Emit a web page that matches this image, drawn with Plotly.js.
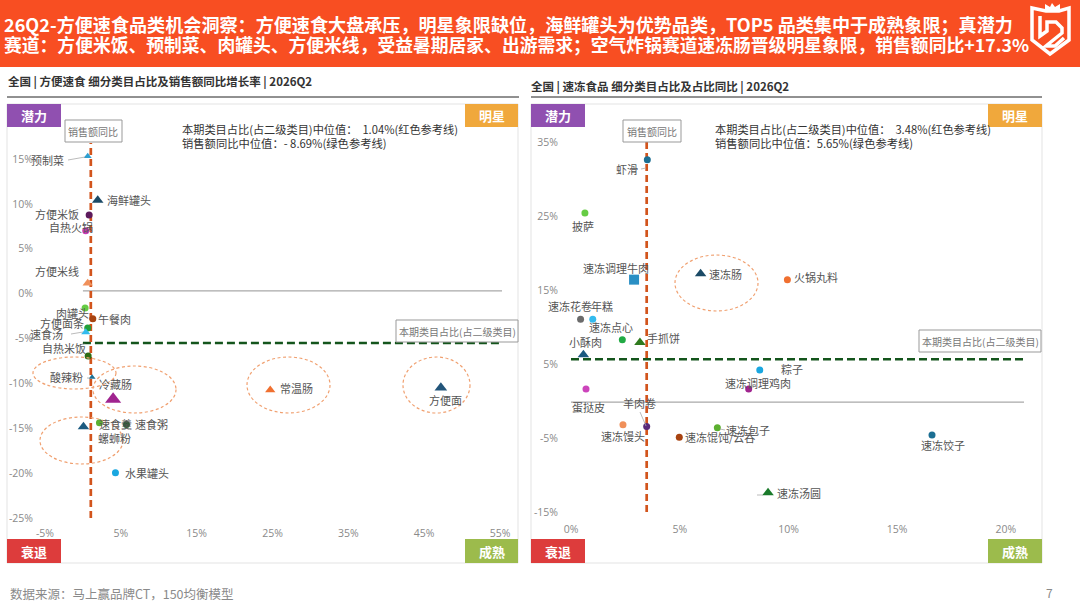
<!DOCTYPE html>
<html><head><meta charset="utf-8">
<script src="https://cdn.plot.ly/plotly-3.0.0.min.js"></script>
<style>html,body{margin:0;padding:0;background:#fff}#c{width:1080px;height:608px}</style>
</head><body><div id="c"></div>
<script>
// ---- left chart data
const leftCats = ['预制菜','海鲜罐头','方便米饭','自热火锅','方便米线','肉罐头','午餐肉','方便面条','速食汤','自热米饭','酸辣粉','冷藏肠','螺蛳粉','速食羹','速食粥','水果罐头','常温肠','方便面'];
const leftShare = [0.63,1.95,0.82,0.37,0.63,0.29,1.3,0.63,0.37,0.69,1.21,3.98,0.07,2.18,5.74,4.29,24.7,47.2];
const leftGrowth = [15.3,10.4,8.77,7.0,1.15,-1.6,-2.8,-3.84,-4.3,-6.96,-9.33,-11.78,-14.83,-14.39,-14.57,-19.96,-10.75,-10.5];
const leftXTicks = [-5,5,15,25,35,45,55];
const leftYTicks = [-25,-20,-15,-10,-5,0,5,10,15];
const leftMedianShare = 1.04;
const leftMedianGrowth = -5.5;
const leftBaseline = 0.3;
// ---- right chart data
const rightCats = ['虾滑','披萨','速冻调理牛肉','速冻肠','火锅丸料','速冻花卷','年糕','速冻点心','小酥肉','手抓饼','粽子','速冻调理鸡肉','蛋挞皮','羊肉卷','速冻馒头','速冻包子','速冻馄饨/云吞','速冻饺子','速冻汤圆'];
const rightShare = [3.51,0.64,2.9,5.96,9.95,0.44,1.0,2.36,0.57,3.17,8.68,8.17,0.69,3.48,2.39,6.73,4.98,16.6,9.06];
const rightGrowth = [32.6,25.4,16.4,17.2,16.4,11.05,11.05,8.27,6.25,7.9,4.2,1.63,1.63,-3.45,-3.2,-3.6,-4.9,-4.6,-12.4];
const rightXTicks = [0,5,10,15,20];
const rightYTicks = [-15,-5,5,15,25,35];
const rightMedianShare = 3.48;
const rightMedianGrowth = 5.65;
const rightBaseline = -0.15;
// ---- styles (separate from values)
const leftSym = ['triangle-up','triangle-up','circle','circle','triangle-up','circle','circle','circle','triangle-up','circle','triangle-up','triangle-up','triangle-up','circle','circle','circle','triangle-up','triangle-up'];
const leftCol = ['#2f9fd0','#1b4a66','#5c1a5c','#c93ab5','#f0905a','#66cc44','#a84310','#21a03a','#33bbee','#2f6b12','#1c6f93','#a0248f','#1b5a80','#5cb030','#1f5c2a','#1aa7e0','#f07030','#22557a'];
const leftSize = [7,10,7,7,9,7,7,7,8,7,6,14,10,7,7,7,9,11];
const leftLab = [[-40,-4],[31,0],[-32,1],[-15,4],[-31,12],[-13,-5],[22,0],[-26,5],[-39,-2],[-24,8],[-26,0],[2,15],[31,-11],[16,-1],[25,0],[32,0],[26,2],[5,-12]];
const rightSym = ['circle','circle','square','triangle-up','circle','circle','circle','circle','triangle-up','triangle-up','circle','circle','circle','circle','circle','circle','circle','circle','triangle-up'];
const rightCol = ['#1c6f93','#66cc44','#2a8fc4','#1b4a66','#f07030','#6b6b6b','#33bbee','#22aa44','#1b5a80','#2f7a1e','#1aa7e0','#a0248f','#cc44bb','#5a2a7a','#f0905a','#5cb030','#a84310','#1c6f93','#1a7a2a'];
const rightSize = [7,7,10,10,7,7,7,7,10,10,7,7,7,7,7,7,7,7,10];
const rightLab = [[-20,-9],[-2,-13],[-18,12],[25,0],[29,3],[-11,13],[9,13],[-11,13],[2,13],[24,5],[32,1],[9,6],[2,-18],[-7,24],[0,-11],[31,-2],[41,0],[11,-10],[31,0]];

const PX = v => v/1080, PY = v => 1 - v/608;
const font = '"Noto Sans CJK SC","Noto Sans",sans-serif';
const box = (x0,y0,x1,y1,extra) => Object.assign({type:'rect',xref:'paper',yref:'paper',x0:PX(x0),x1:PX(x1),y0:PY(y0),y1:PY(y1),line:{width:0}},extra);
const ell = (x0,y0,x1,y1) => ({type:'circle',xref:'paper',yref:'paper',x0:PX(x0),x1:PX(x1),y0:PY(y0),y1:PY(y1),layer:'above',line:{color:'#f0a070',width:1.2,dash:'3px,2.5px'}});
const seg = (x0,y0,x1,y1) => ({type:'line',xref:'paper',yref:'paper',x0:PX(x0),x1:PX(x1),y0:PY(y0),y1:PY(y1),line:{color:'#aaaaaa',width:0.8}});
const note = (x,y,text,size,color,anchor,extra) => Object.assign({xref:'paper',yref:'paper',x:PX(x),y:PY(y),text,showarrow:false,xanchor:anchor||'left',yanchor:'middle',font:{family:font,size,color}},extra||{});
const pct = a => a.map(v => v + '%');

function panel(xa,ya,cats,xs,ys,sym,col,size,medX,medY,xEnd,yMin,yMax,base){
  return [
    {type:'scatter',mode:'lines',xaxis:xa,yaxis:ya,x:[0,xEnd],y:[base,base],line:{color:'#a9a9a9',width:1.3},hoverinfo:'skip'},
    {type:'scatter',mode:'lines',xaxis:xa,yaxis:ya,x:[0,xEnd],y:[medY,medY],line:{color:'#14551c',width:2.4,dash:'8px,4px'},hoverinfo:'skip'},
    {type:'scatter',mode:'lines',xaxis:xa,yaxis:ya,x:[medX,medX],y:[yMin,yMax],line:{color:'#d2541c',width:2.7,dash:'7px,4px'},hoverinfo:'skip'},
    {type:'scatter',mode:'markers',xaxis:xa,yaxis:ya,x:xs,y:ys,text:cats,cliponaxis:false,marker:{symbol:sym,color:col,size:size,opacity:1,line:{width:0}}}
  ];
}
const data = [
  ...panel('x','y',leftCats,leftShare,leftGrowth,leftSym,leftCol,leftSize,leftMedianShare,leftMedianGrowth,55.26,-25,16.78,leftBaseline),
  ...panel('x2','y2',rightCats,rightShare,rightGrowth,rightSym,rightCol,rightSize,rightMedianShare,rightMedianGrowth,20.83,-15,35,rightBaseline)
];
const tickFont = {family:'"Open Sans","Noto Sans",sans-serif',size:10.5,color:'#8a8a8a'};
const axisBase = {showgrid:false,zeroline:false,showline:false,ticks:'',tickmode:'array',tickfont:tickFont,tickangle:0};

const labels = (cats,xs,ys,offs,xa,ya) => cats.map((c,i)=>({xref:xa,yref:ya,x:xs[i],y:ys[i],text:c,showarrow:false,xshift:offs[i][0],yshift:offs[i][1],xanchor:'center',yanchor:'middle',font:{family:font,size:11,color:'#555555'}}));

const quad = (x,y,w,h,col) => [box(x,y,x+w,y+h,{fillcolor:col,layer:'above'})];
const shapes = [
  box(0,0,1080,67,{fillcolor:'#f84e22',layer:'below'}),
  box(7,104,518,563,{line:{color:'#e3e3e3',width:1},layer:'below'}),
  box(531,104,1042,563,{line:{color:'#e3e3e3',width:1},layer:'below'}),
  {type:'line',xref:'paper',yref:'paper',x0:PX(7),x1:PX(519),y0:PY(97),y1:PY(97),line:{color:'#222',width:1}},
  {type:'line',xref:'paper',yref:'paper',x0:PX(531),x1:PX(1042),y0:PY(97),y1:PY(97),line:{color:'#222',width:1}},
  ...quad(7,104,54,23,'#9050b0'),...quad(465,104,53,23,'#f0a83c'),...quad(7,539,54,24,'#dd3c3c'),...quad(465,539,53,24,'#9cbb4c'),
  ...quad(531,104,54,23,'#9050b0'),...quad(988,104,54,23,'#f0a83c'),...quad(531,539,54,24,'#dd3c3c'),...quad(988,539,54,24,'#9cbb4c'),
  box(65,120,122,142,{fillcolor:'#fff',line:{color:'#999',width:1},layer:'above'}),
  box(623,120,681,142,{fillcolor:'#fff',line:{color:'#999',width:1},layer:'above'}),
  box(396,320,518,342,{fillcolor:'#fff',line:{color:'#999',width:1},layer:'above'}),
  box(919,330,1041,352,{fillcolor:'#fff',line:{color:'#999',width:1},layer:'above'}),
  ell(33,357,116,389),ell(93,366,176,413),ell(40,417,123,464),ell(247,357,330,413),ell(403,357,470,413),ell(675,255,758,311),
  seg(68,160,85,157),seg(71,334,83,332),seg(87,378,90,378),seg(641,169,646,168),seg(640,412,646,426),seg(720,429,725,430),seg(757,495,763,495),
  // logo
  {type:'path',xref:'paper',yref:'paper',layer:'above',line:{color:'#fff',width:3.5},fillcolor:'rgba(0,0,0,0)',
   path:'M '+[[1032,8],[1046,11],[1059,11],[1069,8],[1069,40],[1050,54],[1032,40]].map(p=>PX(p[0])+','+PY(p[1])).join(' L ')+' Z'},
  {type:'path',xref:'paper',yref:'paper',layer:'above',line:{color:'#fff',width:0},fillcolor:'#fff',
   path:'M '+[[1045,10],[1045,4],[1050,7],[1052,3],[1055,7],[1060,4],[1060,10]].map(p=>PX(p[0])+','+PY(p[1])).join(' L ')+' Z'},
  {type:'path',xref:'paper',yref:'paper',layer:'above',line:{color:'#fff',width:3.5},fillcolor:'rgba(0,0,0,0)',
   path:'M '+[[1040,16],[1040,36],[1047,31],[1047,22],[1056,22],[1062,28],[1062,33],[1046,46],[1055,46],[1064,38]].map(p=>PX(p[0])+','+PY(p[1])).join(' L ')}
];
const annotations = [
  note(2,24,'<b>26Q2-方便速食品类机会洞察：方便速食大盘承压，明星象限缺位，海鲜罐头为优势品类，TOP5 品类集中于成熟象限；真潜力</b>',18.1,'#fff'),
  note(2,44,'<b>赛道：方便米饭、预制菜、肉罐头、方便米线，受益暑期居家、出游需求；空气炸锅赛道速冻肠晋级明星象限，销售额同比+17.3%</b>',17.8,'#fff'),
  note(6,81,'<b>全国 | 方便速食 细分类目占比及销售额同比增长率 | 2026Q2</b>',11.5,'#333'),
  note(529,87,'<b>全国 | 速冻食品 细分类目占比及占比同比 | 2026Q2</b>',11.5,'#333'),
  note(180,129,'本期类目占比(占二级类目)中位值：  1.04%(红色参考线)',11.2,'#333'),
  note(180,143,'销售额同比中位值：- 8.69%(绿色参考线)',11.3,'#333'),
  note(713,129,'本期类目占比(占二级类目)中位值：  3.48%(红色参考线)',11.2,'#333'),
  note(713,143,'销售额同比中位值：5.65%(绿色参考线)',11.3,'#333'),
  note(93.5,131,'销售额同比',10,'#777','center'),
  note(652,131,'销售额同比',10,'#777','center'),
  note(457,331,'本期类目占比(占二级类目)',10,'#777','center'),
  note(980,341,'本期类目占比(占二级类目)',10,'#777','center'),
  ...[[34,116,'潜力'],[491.5,116,'明星'],[34,551,'衰退'],[491.5,551,'成熟'],[558,116,'潜力'],[1015,116,'明星'],[558,551,'衰退'],[1015,551,'成熟']]
    .map(a=>note(a[0],a[1],'<b>'+a[2]+'</b>',13,'#fff','center')),
  note(8,593,'数据来源：马上赢品牌CT，150均衡模型',12.5,'#8a8a8a'),
  note(1049,592,'7',12,'#8a8a8a','center'),
  ...labels(leftCats,leftShare,leftGrowth,leftLab,'x','y'),
  ...labels(rightCats,rightShare,rightGrowth,rightLab,'x2','y2')
];
const layout = {
  width:1080,height:608,margin:{l:0,r:0,t:0,b:0},paper_bgcolor:'#fff',plot_bgcolor:'rgba(0,0,0,0)',showlegend:false,
  font:{family:font},
  xaxis:{...axisBase,domain:[PX(45),PX(502)],range:[-5,55.26],tickvals:leftXTicks,ticktext:pct(leftXTicks),anchor:'y',ticklabelstandoff:7},
  yaxis:{...axisBase,domain:[PY(518),PY(143)],range:[-25,16.78],tickvals:leftYTicks,ticktext:pct(leftYTicks),anchor:'x',ticklabelstandoff:11},
  xaxis2:{...axisBase,domain:[PX(571),PX(1024)],range:[0,20.83],tickvals:rightXTicks,ticktext:pct(rightXTicks),anchor:'y2',ticklabelstandoff:9},
  yaxis2:{...axisBase,domain:[PY(512),PY(142)],range:[-15,35],tickvals:rightYTicks,ticktext:pct(rightYTicks),anchor:'x2',ticklabelstandoff:12},
  shapes,annotations
};
Plotly.newPlot('c',data,layout,{displayModeBar:false,staticPlot:true});
</script></body></html>
